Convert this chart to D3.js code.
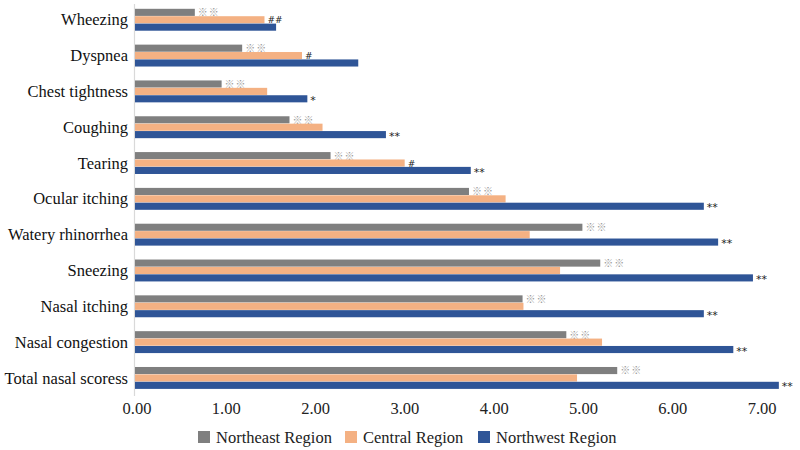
<!DOCTYPE html>
<html>
<head>
<meta charset="utf-8">
<script src="https://cdn.jsdelivr.net/npm/d3@7"></script>
<style>
  body { margin: 0; background: #fff; }
  .serif { font-family: "Liberation Serif", "Times New Roman", serif; }
</style>
</head>
<body>
<svg id="grafico"></svg>
<script>
// categorias e valores
const categorias = ['Wheezing', 'Dyspnea', 'Chest tightness', 'Coughing', 'Tearing', 'Ocular itching',
  'Watery rhinorrhea', 'Sneezing', 'Nasal itching', 'Nasal congestion', 'Total nasal scoress'];
const series = ['Northeast Region', 'Central Region', 'Northwest Region'];
const cores = ['#7f7f7f', '#f4b183', '#2f5597'];

const nordeste = [0.67, 1.20, 0.97, 1.73, 2.19, 3.74, 5.01, 5.21, 4.34, 4.83, 5.40];
const central = [1.45, 1.87, 1.48, 2.10, 3.02, 4.15, 4.42, 4.76, 4.35, 5.23, 4.95];
const noroeste = [1.58, 2.50, 1.93, 2.81, 3.76, 6.37, 6.53, 6.92, 6.37, 6.70, 7.21];

// marcas de significância
const marcasNordeste = ['※※', '※※', '※※', '※※', '※※', '※※', '※※', '※※', '※※', '※※', '※※'];
const marcasCentral = ['##', '#', '', '', '#', '', '', '', '', '', ''];
const marcasNoroeste = ['', '', '*', '**', '**', '**', '**', '**', '**', '**', '**'];

const ticks = [0, 1, 2, 3, 4, 5, 6, 7];

const largura = 800, altura = 450;
const svg = d3.select('#grafico').attr('width', largura).attr('height', altura);

const valores = [nordeste, central, noroeste];
const marcas = [marcasNordeste, marcasCentral, marcasNoroeste];

const fnX = d3.scaleLinear().domain([0, 7.3]).range([135, 135 + 7.3 * 89.3]);
const fnY = d3.scaleBand().domain(categorias).range([2, 396]).paddingInner(0.38).paddingOuter(0.19);
const fnSerie = d3.scaleBand().domain(series).range([0, fnY.bandwidth()]);

// eixo vertical
svg.append('line')
  .attr('x1', fnX(0) - 0.5).attr('x2', fnX(0) - 0.5)
  .attr('y1', 4).attr('y2', 396)
  .attr('stroke', '#d9d9d9').attr('stroke-width', 1.2);

// rótulos das categorias
svg.selectAll('.categoria')
  .data(categorias)
  .enter()
  .append('text')
  .classed('categoria serif', true)
  .attr('x', 128)
  .attr('y', (d) => fnY(d) + fnY.bandwidth() / 2)
  .attr('dy', '0.33em')
  .attr('text-anchor', 'end')
  .attr('font-size', 16.5)
  .attr('fill', '#111')
  .text((d) => d);

// barras
series.forEach((s, j) => {
  const g = svg.append('g');
  g.selectAll('rect')
    .data(categorias)
    .enter()
    .append('rect')
    .attr('x', fnX(0))
    .attr('y', (d) => fnY(d) + fnSerie(s))
    .attr('width', (d, i) => fnX(valores[j][i]) - fnX(0))
    .attr('height', fnSerie.bandwidth() - 0.3)
    .attr('fill', cores[j]);

  g.selectAll('text')
    .data(categorias)
    .enter()
    .append('text')
    .attr('x', (d, i) => fnX(valores[j][i]) + 3)
    .attr('y', (d) => fnY(d) + fnSerie(s) + fnSerie.bandwidth() / 2)
    .attr('dy', j === 2 ? '0.45em' : '0.38em')
    .attr('font-size', j === 0 ? 10 : (j === 2 ? 11 : 9))
    .attr('font-family', j === 0 ? 'Noto Sans CJK SC' : 'DejaVu Sans')
    .attr('fill', j === 0 ? '#9a9a9a' : '#222')
    .attr('letter-spacing', j === 0 ? 1 : 0)
    .text((d, i) => marcas[j][i]);
});

// rótulos do eixo x
svg.selectAll('.tick-x')
  .data(ticks)
  .enter()
  .append('text')
  .classed('tick-x serif', true)
  .attr('x', (d) => fnX(d) + 2)
  .attr('y', 414)
  .attr('text-anchor', 'middle')
  .attr('font-size', 16.5)
  .attr('fill', '#222')
  .text((d) => d3.format('.2f')(d));

// legenda
const legendaX = [198, 345, 478];
const legenda = svg.selectAll('.legenda')
  .data(series)
  .enter()
  .append('g')
  .classed('legenda', true)
  .attr('transform', (d, i) => `translate(${legendaX[i]}, 431)`);
legenda.append('rect')
  .attr('width', 12).attr('height', 12)
  .attr('fill', (d, i) => cores[i]);
legenda.append('text')
  .classed('serif', true)
  .attr('x', 18).attr('y', 6)
  .attr('dy', '0.35em')
  .attr('font-size', 16.5)
  .attr('fill', '#222')
  .text((d) => d);
</script>
</body>
</html>
